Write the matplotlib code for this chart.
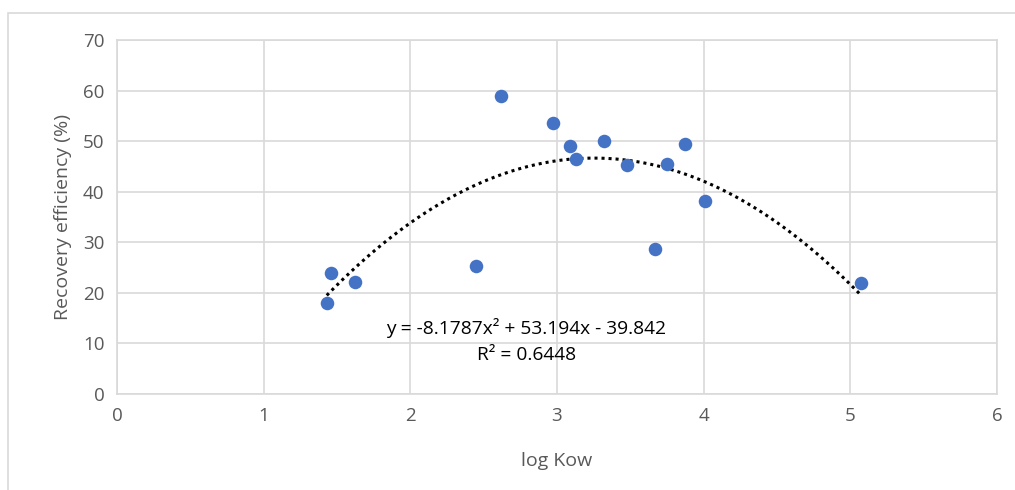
import numpy as np
import matplotlib.pyplot as plt
from matplotlib.patches import Rectangle

plt.rcParams['font.family'] = ['Open Sans', 'DejaVu Sans']

log_kow = [1.43, 1.46, 1.62, 2.45, 2.62, 2.97, 3.09, 3.13, 3.32, 3.48, 3.67, 3.75, 3.87, 4.01, 5.07]
recovery = [18.0, 23.9, 22.1, 25.4, 59.0, 53.5, 49.0, 46.5, 50.1, 45.3, 28.6, 45.5, 49.5, 38.1, 21.9]

# trendline coefficients as printed on the chart
trend_coef = [-8.1787, 53.194, -39.842]
r_squared = 0.6448

grey = '#595959'
grid_c = '#d9d9d9'

fig = plt.figure(figsize=(10.15, 4.9), dpi=100)
ax = fig.add_axes([117 / 1015, 1 - 394 / 490, 880 / 1015, 354 / 490])

# outer chart border
fig.patches.append(Rectangle((8 / 1015, -0.1), 1.2, (490 - 13) / 490 + 0.1,
                             transform=fig.transFigure, fill=False,
                             edgecolor=grid_c, linewidth=1.2))

ax.set_xlim(0, 6)
ax.set_ylim(0, 70)
ax.set_xticks(range(0, 7))
ax.set_yticks(range(0, 71, 10))
ax.grid(True, color=grid_c, linewidth=1.2)
ax.set_axisbelow(True)
for s in ax.spines.values():
    s.set_color(grid_c)
    s.set_linewidth(1.2)
ax.tick_params(length=0, labelsize=13.5, colors=grey, pad=9)

xs = np.linspace(min(log_kow), max(log_kow), 200)
ax.plot(xs, np.polyval(trend_coef, xs), linestyle=(0, (1, 1.3)), color='black', linewidth=2.2)
ax.scatter(log_kow, recovery, s=95, color='#4472C4', zorder=3, linewidths=0)

ax.text(2.79, 13.1, 'y = -8.1787x² + 53.194x - 39.842', ha='center', va='center', fontsize=13.8, color='black')
ax.text(2.79, 7.7, f'R² = {r_squared}', ha='center', va='center', fontsize=13.8, color='black')

ax.set_xlabel('log Kow', fontsize=14, color=grey, labelpad=20)
ax.set_ylabel('Recovery efficiency (%)', fontsize=14, color=grey, labelpad=8)

fig.savefig('out.png', dpi=100)
